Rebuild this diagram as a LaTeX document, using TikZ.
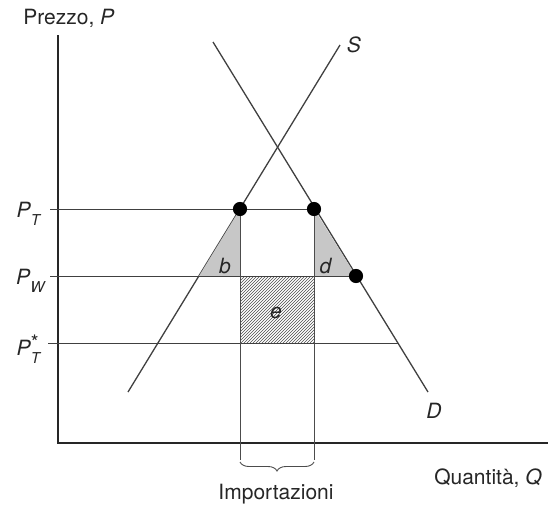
\documentclass[tikz,border=0pt]{standalone}
\usepackage{fontspec}
\setmainfont{TeX Gyre Heros}
\usetikzlibrary{patterns,decorations.pathreplacing}
\newcommand{\subtxt}[1]{\raisebox{-0.75ex}{\fontsize{15}{16}\selectfont\textit{#1}}}
\newcommand{\startxt}{\rlap{\raisebox{0.55ex}{\fontsize{20}{20}\selectfont *}}}
\begin{document}
\begin{tikzpicture}[x=1pt,y=-1pt]
    \tikzstyle{v}=[circle, fill=black, inner sep=5pt]
    \tikzstyle{lbl}=[font=\fontsize{21}{24}\selectfont, text=black!85, inner sep=0pt]
    \tikzstyle{ln}=[line width=1pt, black!75]
    \useasboundingbox (0,0) rectangle (552,509);
    % axes
    \coordinate (o) at (58,443);
    \coordinate (ytop) at (58,35);
    \coordinate (xend) at (548,443);
    \draw[line width=1.4pt, black!85] (ytop) -- (o) -- (xend);
    \node[lbl] (ylab) at (69,18) {Prezzo, \textit{P}};
    \node[lbl] (xlab) at (488,478) {Quantità, \textit{Q}};
    % supply and demand
    \coordinate (s0) at (128,392);
    \coordinate (s1) at (340,45);
    \coordinate (d0) at (213,42);
    \coordinate (d1) at (428,392);
    \draw[line width=1.3pt, black!75] (s0) -- (s1);
    \draw[line width=1.3pt, black!75] (d0) -- (d1);
    \node[lbl] (slab) at (354,45) {\textit{S}};
    \node[lbl] (dlab) at (434,411) {\textit{D}};
    % points
    \coordinate (sT) at (240,209);
    \coordinate (dT) at (314,209);
    \coordinate (sW) at (199,276);
    \coordinate (dW) at (356,276);
    \coordinate (iT) at (240,276);
    \coordinate (jT) at (314,276);
    \coordinate (iS) at (240,343);
    \coordinate (jS) at (314,343);
    % areas
    \fill[black!22] (sT) -- (sW) -- (iT) -- cycle;
    \fill[black!22] (dT) -- (jT) -- (dW) -- cycle;
    \fill[pattern=north east lines, pattern color=black!70] (iT) rectangle (jS);
    \node[lbl] (b) at (225,266) {\textit{b}};
    \node[lbl] (d) at (326,266) {\textit{d}};
    \node[lbl] (e) at (276,313) {\textit{e}};
    % price lines
    \coordinate (pT) at (50,209);
    \coordinate (pW) at (50,276);
    \coordinate (pS) at (48,343);
    \coordinate (dS) at (398,343);
    \draw[ln] (pT) -- (dT);
    \draw[ln] (pW) -- (dW);
    \draw[ln] (pS) -- (dS);
    \node[lbl] (lT) at (29,214) {\textit{P}\subtxt{T}};
    \node[lbl] (lW) at (31,281) {\textit{P}\subtxt{W}};
    \node[lbl] (lS) at (29,349) {\textit{P}\startxt\subtxt{T}};
    % imports
    \coordinate (iB) at (240,460);
    \coordinate (jB) at (314,460);
    \draw[line width=0.8pt, black!70] (sT) -- (iB);
    \draw[line width=0.8pt, black!70] (dT) -- (jB);
    \draw[line width=0.9pt, black!70, decorate, decoration={brace, mirror, amplitude=9pt}] (240,462) -- (314,462);
    \node[lbl] (imp) at (276,494) {Importazioni};
    % dots
    \foreach \p in {sT, dT, dW} {
      \node[v] at (\p) {};
    }
  \end{tikzpicture}
\end{document}
